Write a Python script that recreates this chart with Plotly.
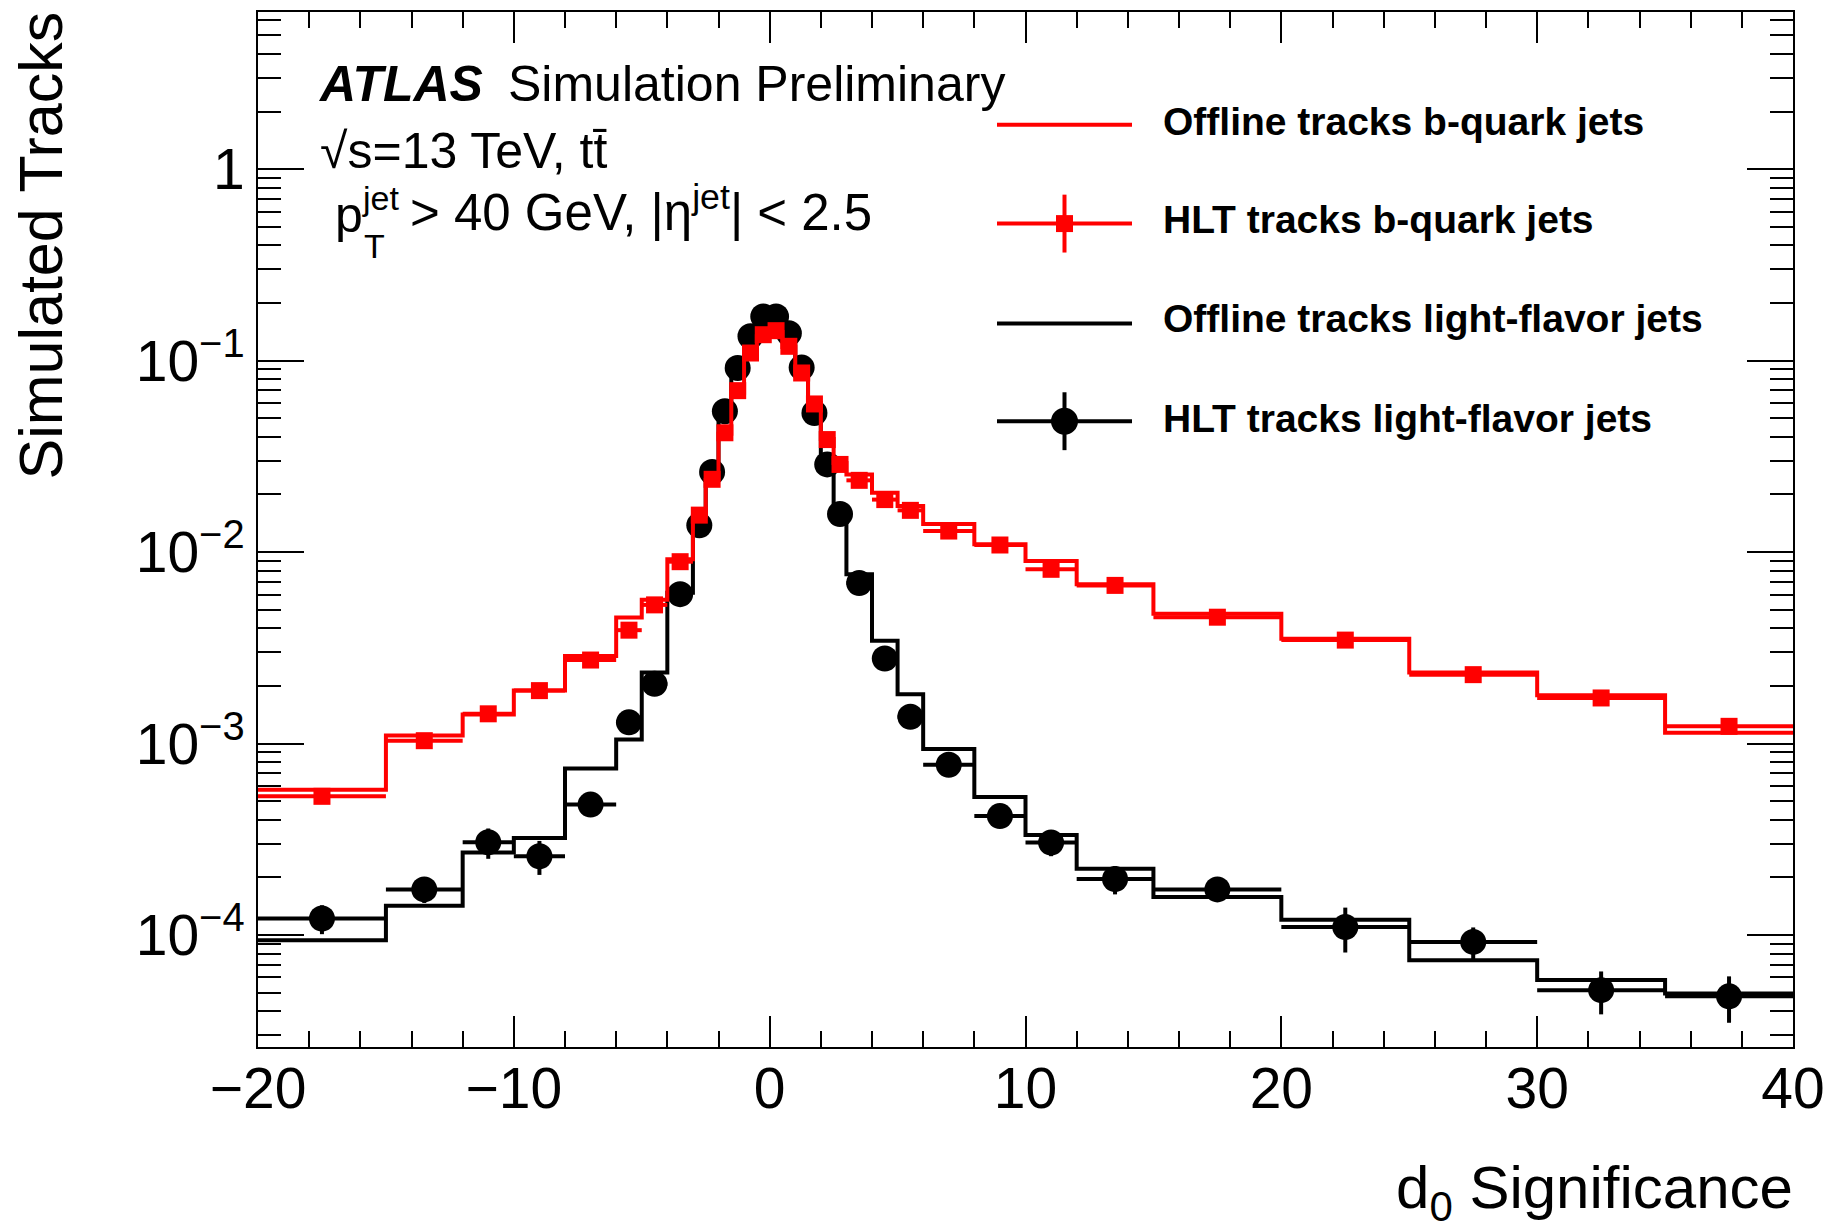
import plotly.graph_objects as go

# ---------------- data ----------------
bin_edges = [-20, -15, -12, -10, -8, -6, -5, -4, -3, -2.5, -2, -1.5, -1, -0.5, 0, 0.5,
             1, 1.5, 2, 2.5, 3, 4, 5, 6, 8, 10, 12, 15, 20, 25, 30, 35, 40]

offline_b = [5.73e-4, 1.10e-3, 1.42e-3, 1.89e-3, 2.87e-3, 4.55e-3, 5.63e-3, 9.17e-3,
             0.0155, 0.0238, 0.0415, 0.068, 0.108, 0.134, 0.141, 0.118,
             0.087, 0.060, 0.039, 0.0292, 0.0254, 0.0204, 0.0174, 0.0140,
             0.0110, 8.99e-3, 6.79e-3, 4.76e-3, 3.53e-3, 2.35e-3, 1.79e-3, 1.14e-3]

hlt_b = [5.3e-4, 1.035e-3, 1.43e-3, 1.89e-3, 2.73e-3, 3.91e-3, 5.30e-3, 8.91e-3,
         0.0156, 0.0240, 0.0420, 0.0697, 0.1096, 0.1366, 0.1434, 0.1188,
         0.0862, 0.0594, 0.0387, 0.0287, 0.0237, 0.0188, 0.01652, 0.01288,
         0.01089, 8.13e-3, 6.7e-3, 4.57e-3, 3.47e-3, 2.29e-3, 1.73e-3, 1.23e-3]

hlt_b_err = [3.2e-5, 5e-5, 6e-5, 7e-5, 8e-5, 1e-4, 1.2e-4, 1.8e-4,
             3e-4, 4.5e-4, 8e-4, 1.3e-3, 2e-3, 2.5e-3, 2.6e-3, 2.2e-3,
             1.6e-3, 1.1e-3, 7.5e-4, 5.5e-4, 4.5e-4, 3.6e-4, 3.2e-4, 2.5e-4,
             2.1e-4, 1.7e-4, 1.3e-4, 9e-5, 7e-5, 5e-5, 4e-5, 3.5e-5]

offline_light = [9.4e-5, 1.42e-4, 2.7e-4, 3.21e-4, 7.4e-4, 1.05e-3, 2.35e-3, 6.14e-3,
                 0.0138, 0.0265, 0.0548, 0.0905, 0.131, 0.166, 0.167, 0.137,
                 0.091, 0.0535, 0.0284, 0.0160, 7.66e-3, 3.44e-3, 1.81e-3, 9.37e-4,
                 5.25e-4, 3.33e-4, 2.22e-4, 1.58e-4, 1.20e-4, 7.37e-5, 5.82e-5, 4.95e-5]

hlt_light = [1.22e-4, 1.73e-4, 3.05e-4, 2.58e-4, 4.80e-4, 1.29e-3, 2.05e-3, 6.03e-3,
             0.0138, 0.0262, 0.0544, 0.0915, 0.134, 0.170, 0.170, 0.139,
             0.092, 0.0533, 0.0287, 0.0158, 6.9e-3, 2.78e-3, 1.38e-3, 7.75e-4,
             4.18e-4, 3.04e-4, 1.96e-4, 1.73e-4, 1.10e-4, 9.2e-5, 5.15e-5, 4.78e-5]

hlt_light_err = [2.1e-5, 2.6e-5, 5.5e-5, 5.2e-5, 4.8e-5, 7.7e-5, 1.0e-4, 1.8e-4,
                 2.8e-4, 5.2e-4, 1.1e-3, 1.8e-3, 2.7e-3, 3.4e-3, 3.4e-3, 2.8e-3,
                 1.8e-3, 1.1e-3, 5.7e-4, 3.2e-4, 1.7e-4, 8.3e-5, 5.5e-5, 4.6e-5,
                 4.2e-5, 4.6e-5, 3.3e-5, 2.2e-5, 2.9e-5, 1.75e-5, 1.3e-5, 1.3e-5]

x_tick_vals = [-20, -10, 0, 10, 20, 30, 40]
x_tick_text = ["\u221220", "\u221210", "0", "10", "20", "30", "40"]
y_tick_vals = [1e-4, 1e-3, 1e-2, 1e-1, 1]
y_tick_text = ["10<sup>\u22124</sup>", "10<sup>\u22123</sup>", "10<sup>\u22122</sup>",
               "10<sup>\u22121</sup>", "1"]

legend_labels = ["Offline tracks b-quark jets", "HLT tracks b-quark jets",
                 "Offline tracks light-flavor jets", "HLT tracks light-flavor jets"]

RED = "#ff0000"
BLACK = "#000000"
FONT = "Liberation Sans, Arial, Helvetica, sans-serif"

# derived bin geometry
centers = [(a + b) / 2 for a, b in zip(bin_edges[:-1], bin_edges[1:])]
half_w = [(b - a) / 2 for a, b in zip(bin_edges[:-1], bin_edges[1:])]

W, H = 1845, 1228
L, R, T, B = 258, 52, 10, 181
PW, PH = W - L - R, H - T - B


def fx(px):
    return (px - L) / PW


def fy(py):
    return (H - B - py) / PH


fig = go.Figure()


def step_trace(vals, color, name):
    return go.Scatter(x=bin_edges, y=list(vals) + [vals[-1]], mode="lines",
                      line=dict(color=color, width=4, shape="hv"),
                      name=name, showlegend=False, hoverinfo="skip")


def point_trace(vals, errs, color, symbol, size, name):
    return go.Scatter(x=centers, y=vals, mode="markers",
                      marker=dict(color=color, symbol=symbol, size=size, line=dict(width=0)),
                      error_x=dict(type="data", array=half_w, color=color, thickness=4, width=0),
                      error_y=dict(type="data", array=errs, color=color, thickness=4, width=0),
                      name=name, showlegend=False)


fig.add_trace(step_trace(offline_light, BLACK, legend_labels[2]))
fig.add_trace(point_trace(hlt_light, hlt_light_err, BLACK, "circle", 26, legend_labels[3]))
fig.add_trace(step_trace(offline_b, RED, legend_labels[0]))
fig.add_trace(point_trace(hlt_b, hlt_b_err, RED, "square", 17, legend_labels[1]))

# minor tick positions for log axis
y_minor = [k * 10.0 ** d for d in range(-5, 1) for k in range(2, 10)]

fig.update_layout(
    width=W, height=H, autosize=False,
    margin=dict(l=L, r=R, t=T, b=B, pad=0),
    paper_bgcolor="white", plot_bgcolor="white",
    font=dict(family=FONT, color="black"),
    showlegend=False,
    xaxis=dict(range=[-20, 40], tickmode="array", tickvals=x_tick_vals, ticktext=x_tick_text,
               ticks="inside", ticklen=31, tickwidth=2, tickcolor="black",
               ticklabelstandoff=-9,
               minor=dict(ticks="inside", dtick=2, tick0=0, ticklen=16, tickwidth=2,
                          tickcolor="black", showgrid=False),
               showline=True, linecolor="black", linewidth=2, mirror="allticks",
               showgrid=False, zeroline=False,
               tickfont=dict(size=57, family=FONT)),
    yaxis=dict(type="log", range=[-4.585, 0.821], tickmode="array", tickvals=y_tick_vals,
               ticktext=y_tick_text, ticks="inside", ticklen=46, tickwidth=2, tickcolor="black",
               minor=dict(ticks="inside", tickmode="array", tickvals=y_minor, ticklen=23,
                          tickwidth=2, tickcolor="black", showgrid=False),
               showline=True, linecolor="black", linewidth=2, mirror="allticks",
               showgrid=False, zeroline=False,
               tickfont=dict(size=57, family=FONT)),
)

ann = []
# axis titles
ann.append(dict(text="Simulated Tracks", x=fx(41), y=fy(244), xref="paper", yref="paper",
                xanchor="center", yanchor="middle", textangle=-90, showarrow=False,
                font=dict(size=61, family=FONT)))
ann.append(dict(text="d<sub>0</sub> Significance", x=fx(1795), y=fy(1192), xref="paper",
                yref="paper", xanchor="right", yanchor="middle", showarrow=False,
                font=dict(size=60, family=FONT)))
# ATLAS label
ann.append(dict(text="<b><i>ATLAS</i></b>", x=fx(316), y=fy(82), xref="paper", yref="paper",
                xanchor="left", yanchor="middle", showarrow=False, font=dict(size=50, family=FONT)))
ann.append(dict(text="Simulation Preliminary", x=fx(506), y=fy(82), xref="paper", yref="paper",
                xanchor="left", yanchor="middle", showarrow=False, font=dict(size=50, family=FONT)))
ann.append(dict(text="\u221as=13 TeV, tt\u0304", x=fx(318), y=fy(149), xref="paper",
                yref="paper", xanchor="left", yanchor="middle", showarrow=False,
                font=dict(size=50, family=FONT)))
ann.append(dict(text="p", x=fx(333), y=fy(213), xref="paper", yref="paper",
                xanchor="left", yanchor="middle", showarrow=False, font=dict(size=50, family=FONT)))
ann.append(dict(text="jet", x=fx(360), y=fy(196), xref="paper", yref="paper",
                xanchor="left", yanchor="middle", showarrow=False, font=dict(size=34, family=FONT)))
ann.append(dict(text="T", x=fx(362), y=fy(244), xref="paper", yref="paper",
                xanchor="left", yanchor="middle", showarrow=False, font=dict(size=34, family=FONT)))
ann.append(dict(text="&gt; 40 GeV, |\u03b7<sup>jet</sup>| &lt; 2.5", x=fx(408), y=fy(207),
                xref="paper", yref="paper", xanchor="left", yanchor="middle", showarrow=False,
                font=dict(size=51, family=FONT)))

# legend
rows = [123, 222, 322, 420]
row_text_y = [120, 218, 317, 417]
colors = [RED, RED, BLACK, BLACK]
shapes = []
for i in range(4):
    shapes.append(dict(type="line", xref="paper", yref="paper", x0=fx(997), x1=fx(1132),
                       y0=fy(rows[i]), y1=fy(rows[i]), line=dict(color=colors[i], width=4)))
    ann.append(dict(text="<b>" + legend_labels[i] + "</b>", x=fx(1161), y=fy(row_text_y[i]),
                    xref="paper", yref="paper", xanchor="left", yanchor="middle",
                    showarrow=False, font=dict(size=39, family=FONT)))
# HLT entries: marker + error bar
cx = 1064.5
shapes.append(dict(type="line", xref="paper", yref="paper", x0=fx(cx), x1=fx(cx),
                   y0=fy(rows[1] - 29), y1=fy(rows[1] + 29), line=dict(color=RED, width=4)))
shapes.append(dict(type="rect", xref="paper", yref="paper", x0=fx(cx - 8.5), x1=fx(cx + 8.5),
                   y0=fy(rows[1] - 8.5), y1=fy(rows[1] + 8.5), fillcolor=RED,
                   line=dict(width=0)))
shapes.append(dict(type="line", xref="paper", yref="paper", x0=fx(cx), x1=fx(cx),
                   y0=fy(rows[3] - 29), y1=fy(rows[3] + 29), line=dict(color=BLACK, width=4)))
shapes.append(dict(type="circle", xref="paper", yref="paper", x0=fx(cx - 13.5), x1=fx(cx + 13.5),
                   y0=fy(rows[3] - 13.5), y1=fy(rows[3] + 13.5), fillcolor=BLACK,
                   line=dict(width=0)))

fig.update_layout(annotations=ann, shapes=shapes)

fig.write_html("out.html")
